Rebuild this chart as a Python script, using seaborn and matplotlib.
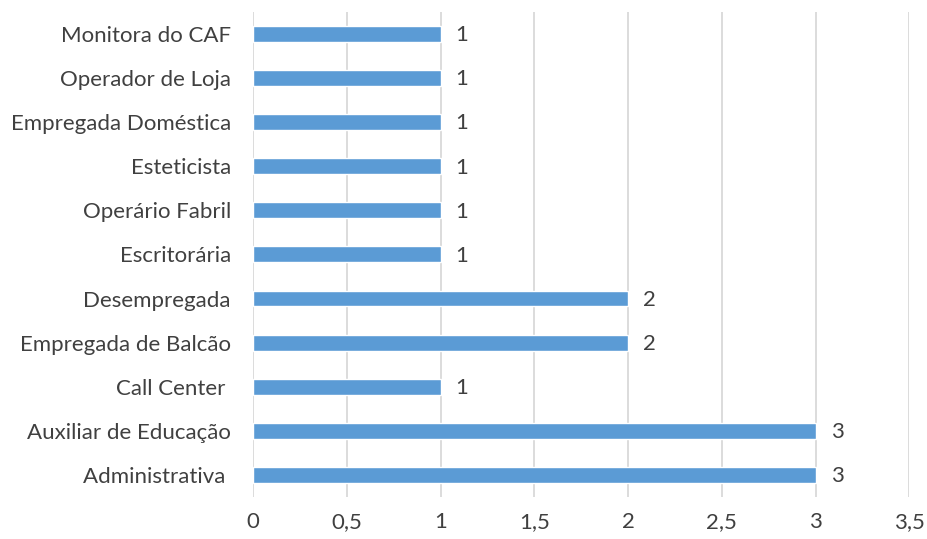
import matplotlib
matplotlib.use("Agg")
import matplotlib.pyplot as plt
import seaborn as sns
import pandas as pd

# categories listed from top to bottom
profissoes = ["Monitora do CAF", "Operador de Loja", "Empregada Doméstica", "Esteticista",
              "Operário Fabril", "Escritorária", "Desempregada", "Empregada de Balcão",
              "Call Center ", "Auxiliar de Educação", "Administrativa "]
contagem = [1, 1, 1, 1, 1, 1, 2, 2, 1, 3, 3]
x_ticks = [0, 0.5, 1, 1.5, 2, 2.5, 3, 3.5]
x_tick_labels = ["0", "0,5", "1", "1,5", "2", "2,5", "3", "3,5"]

df = pd.DataFrame({"profissao": profissoes, "n": contagem})

sns.set_style("white")
plt.rcParams["font.family"] = ["Lato", "DejaVu Sans"]

fig, ax = plt.subplots(figsize=(9.27, 5.39), dpi=100)
fig.subplots_adjust(left=0.273, right=0.981, top=0.978, bottom=0.078)

sns.barplot(data=df, x="n", y="profissao", color="#5B9BD5", saturation=1,
            width=0.36, ax=ax, zorder=3)

for i, v in enumerate(contagem):
    ax.text(v + 0.08, i + 0.03, str(v), va="center", ha="left", fontsize=16, color="#404040")

ax.set_xlim(0, 3.5)
ax.set_xticks(x_ticks)
ax.set_xticklabels(x_tick_labels)
ax.xaxis.grid(True, color="#D9D9D9", linewidth=1.3, zorder=0)
ax.set_axisbelow(True)
ax.set_xlabel("")
ax.set_ylabel("")
for s in ax.spines.values():
    s.set_visible(False)
ax.tick_params(axis="both", length=0, labelsize=16, labelcolor="#404040")
ax.tick_params(axis="x", pad=11)
ax.tick_params(axis="y", pad=16)

fig.savefig("out.png", dpi=100)
